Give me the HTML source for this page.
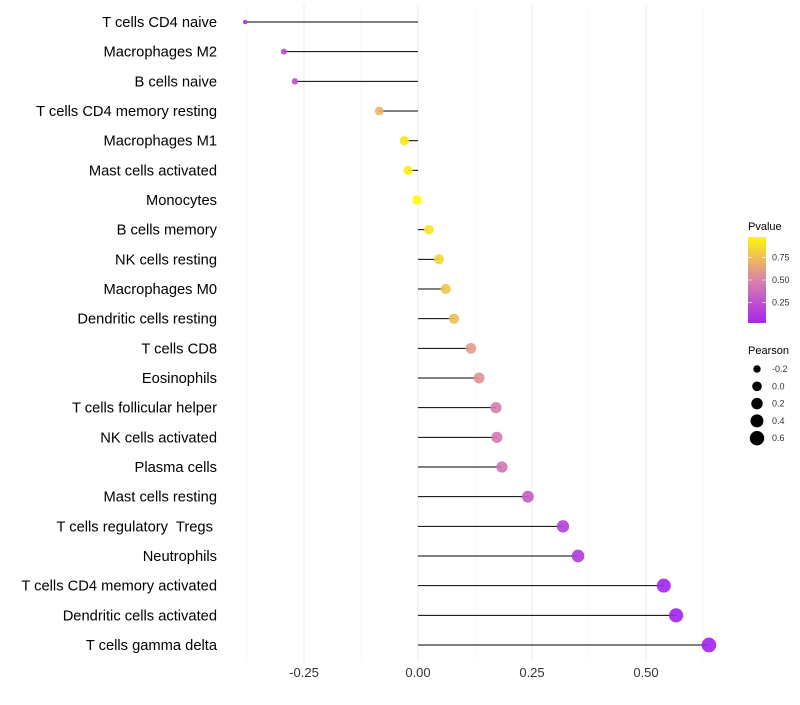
<!DOCTYPE html>
<html><head><meta charset="utf-8"><style>
body{margin:0;background:#fff;font-family:"Liberation Sans",sans-serif;}
</style></head><body>
<svg id="c" width="800" height="700" xmlns="http://www.w3.org/2000/svg" font-family="Liberation Sans, sans-serif"></svg>
<script>
const categories=["T cells CD4 naive","Macrophages M2","B cells naive","T cells CD4 memory resting","Macrophages M1","Mast cells activated","Monocytes","B cells memory","NK cells resting","Macrophages M0","Dendritic cells resting","T cells CD8","Eosinophils","T cells follicular helper","NK cells activated","Plasma cells","Mast cells resting","T cells regulatory\u00a0 Tregs\u00a0","Neutrophils","T cells CD4 memory activated","Dendritic cells activated","T cells gamma delta"];
const pearson=[-0.379,-0.294,-0.27,-0.085,-0.03,-0.022,-0.002,0.024,0.046,0.061,0.079,0.116,0.134,0.171,0.173,0.184,0.241,0.318,0.351,0.539,0.566,0.638];
const pvalue=[0.08,0.2,0.25,0.7,0.9,0.93,0.99,0.9,0.83,0.78,0.74,0.6,0.56,0.46,0.45,0.42,0.3,0.17,0.12,0.02,0.01,0.005];
const xTicks=[-0.25,0,0.25,0.5];
const xTickLabels=["-0.25","0.00","0.25","0.50"];
const pTicks=[0.25,0.5,0.75];
const sizeTicks=[-0.2,0,0.2,0.4,0.6];
const svg=document.getElementById('c');const NS="http://www.w3.org/2000/svg";
function mk(t,a,p){const e=document.createElementNS(NS,t);for(const k in a)e.setAttribute(k,a[k]);(p||svg).appendChild(e);return e;}
const xs=v=>418+v*456;
const ys=i=>22+i*29.667;
function col(p){const s=[[0,[160,32,240]],[0.5,[220,130,170]],[1,[255,255,0]]];let a=s[0],b=s[1];if(p>0.5){a=s[1];b=s[2];}const t=(p-a[0])/(b[0]-a[0]);const c=a[1].map((v,k)=>Math.round(v+(b[1][k]-v)*t));return `rgb(${c})`;}
const rad=v=>Math.sqrt(4+(v+0.4)*48);
for(let g=-0.375;g<=0.63;g+=0.125){const l=mk('line',{x1:xs(g),x2:xs(g),y1:5,y2:662,stroke:Math.abs((g/0.25)%1)<1e-6?'#ebebeb':'#f3f3f3','stroke-width':Math.abs((g/0.25)%1)<1e-6?1:0.6});

}
categories.forEach((c,i)=>{const y=ys(i);
const t=mk('text',{x:217,y:y+5,'text-anchor':'end','font-size':14.7,fill:'#000'});t.textContent=c;


const l=mk('line',{x1:xs(0),x2:xs(pearson[i]),y1:y,y2:y,stroke:'#000','stroke-width':1});


const p=mk('circle',{cx:xs(pearson[i]),cy:y,r:rad(pearson[i]),fill:col(pvalue[i]),'fill-opacity':0.9});

});
xTicks.forEach((v,i)=>{const t=mk('text',{x:xs(v),y:677,'text-anchor':'middle','font-size':13,fill:'#333'});t.textContent=xTickLabels[i];

});
const lt=mk('text',{x:748,y:230,'font-size':11});lt.textContent='Pvalue';


const defs=mk('defs',{});const gr=mk('linearGradient',{id:'g',x1:0,y1:1,x2:0,y2:0},defs);
[[0,0.03],[0.5,0.5],[1,0.97]].forEach(s=>mk('stop',{offset:s[0],'stop-color':col(s[1])},gr));
const bar=mk('rect',{x:748,y:237,width:18,height:86,fill:'url(#g)'});


pTicks.forEach(v=>{const y=325-v*90;mk('line',{x1:748,x2:752,y1:y,y2:y,stroke:'#fff','stroke-opacity':0.6});mk('line',{x1:762,x2:766,y1:y,y2:y,stroke:'#fff','stroke-opacity':0.6});
const t=mk('text',{x:772,y:y+3,'font-size':9,fill:'#333'});t.textContent=v.toFixed(2);

});
const st=mk('text',{x:748,y:354,'font-size':11});st.textContent='Pearson';


sizeTicks.forEach((v,i)=>{const y=369+i*17.3;mk('circle',{cx:757,cy:y,r:rad(v),fill:'#000'});
const t=mk('text',{x:772,y:y+3,'font-size':9,fill:'#333'});t.textContent=v.toFixed(1);

});
</script>
</body></html>
